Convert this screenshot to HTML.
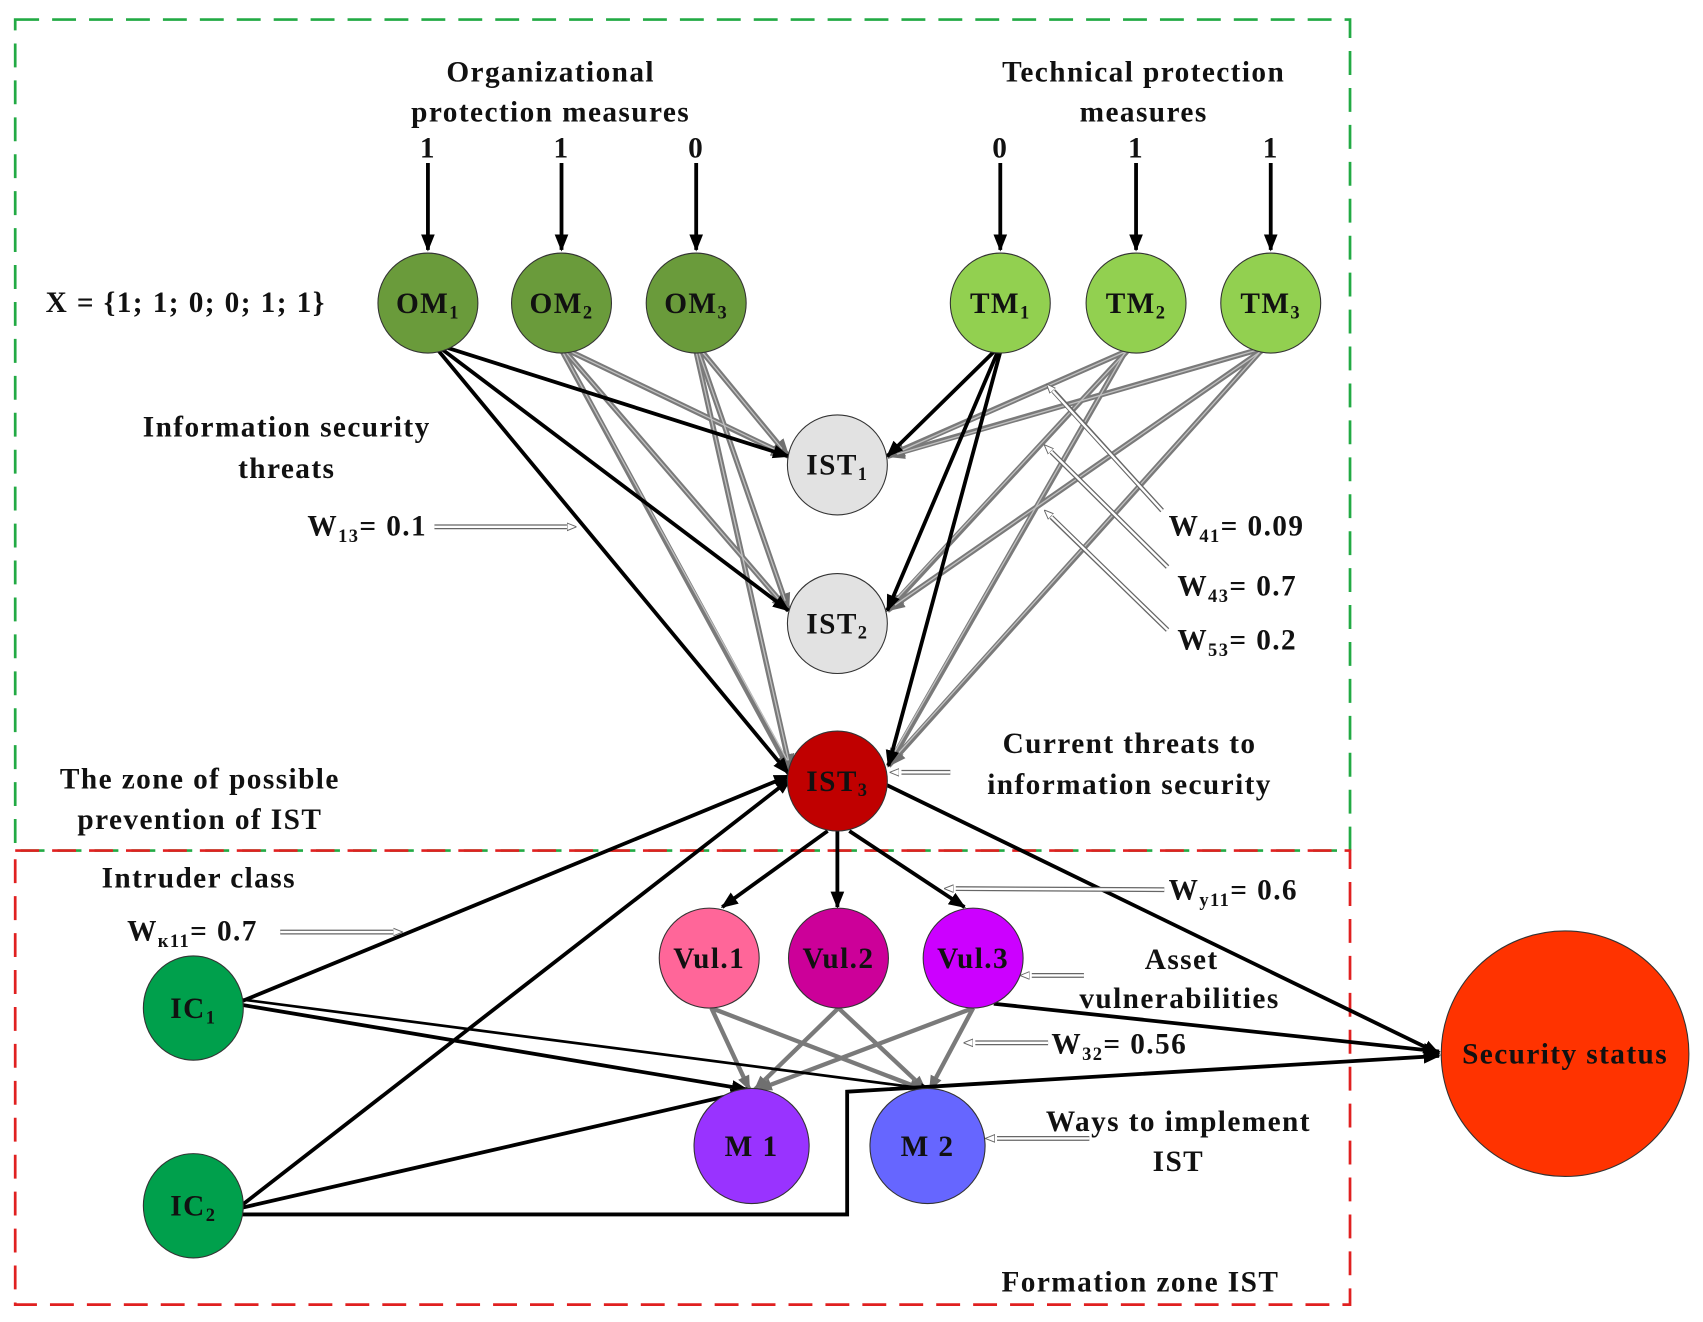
<!DOCTYPE html>
<html><head><meta charset="utf-8"><style>
html,body{margin:0;padding:0;background:#fff}
svg{display:block}
text{font-family:"Liberation Serif",serif;font-weight:bold;fill:#111;letter-spacing:1.3px}
</style></head><body>
<svg width="1703" height="1322" viewBox="0 0 1568 1217" preserveAspectRatio="none" xmlns="http://www.w3.org/2000/svg">
<defs>
<marker id="ab" viewBox="0 0 10 10" refX="9" refY="5" markerWidth="4.5" markerHeight="4.5" orient="auto" markerUnits="strokeWidth"><path d="M0,1 L10,5 L0,9 z" fill="#000"/></marker>
<marker id="ag" viewBox="0 0 10 10" refX="9" refY="5" markerWidth="3.5" markerHeight="3.5" orient="auto" markerUnits="strokeWidth"><path d="M0,1 L10,5 L0,9 z" fill="#707070"/></marker>
<marker id="aw" viewBox="0 0 10 10" refX="9" refY="5" markerWidth="4" markerHeight="4" orient="auto" markerUnits="strokeWidth"><path d="M0,1 L10,5 L0,9 z" fill="#fff" stroke="#666" stroke-width="1"/></marker>
</defs>

<rect x="14" y="18" width="1229" height="765" fill="none" stroke="#22aa44" stroke-width="2.5" stroke-dasharray="22,12"/>
<rect x="14" y="783" width="1229" height="418" fill="none" stroke="#e02020" stroke-width="2.5" stroke-dasharray="22,12"/>

<g stroke="#000" stroke-width="3.5" marker-end="url(#ab)">
<line x1="394" y1="150" x2="394" y2="230"/><line x1="517" y1="150" x2="517" y2="230"/><line x1="641" y1="150" x2="641" y2="230"/>
<line x1="921" y1="150" x2="921" y2="230"/><line x1="1046" y1="150" x2="1046" y2="230"/><line x1="1170" y1="150" x2="1170" y2="230"/>
</g>

<g stroke="#7a7a7a" stroke-width="5" marker-end="url(#ag)" fill="none">
<line x1="522" y1="322" x2="726" y2="420"/><line x1="520" y1="323" x2="726" y2="562"/><line x1="518" y1="324" x2="728" y2="710"/>
<line x1="645" y1="322" x2="726" y2="420"/><line x1="643" y1="323" x2="726" y2="562"/><line x1="641" y1="324" x2="728" y2="710"/>
<line x1="1040" y1="322" x2="817" y2="420"/><line x1="1038" y1="323" x2="817" y2="562"/><line x1="1036" y1="324" x2="818" y2="705"/>
<line x1="1165" y1="320" x2="817" y2="420"/><line x1="1163" y1="322" x2="817" y2="562"/><line x1="1160" y1="324" x2="818" y2="705"/>
</g>
<g stroke="#7a7a7a" stroke-width="4" marker-end="url(#ag)" fill="none">
<line x1="655" y1="928" x2="690" y2="1003"/><line x1="655" y1="928" x2="850" y2="1003"/>
<line x1="772" y1="928" x2="695" y2="1003"/><line x1="772" y1="928" x2="852" y2="1003"/>
<line x1="896" y1="928" x2="698" y2="1003"/><line x1="896" y1="928" x2="856" y2="1003"/>
</g>
<g stroke="#c0c0c0" stroke-width="1.2" fill="none">
<line x1="522" y1="322" x2="718" y2="416"/><line x1="520" y1="323" x2="720" y2="555"/><line x1="518" y1="324" x2="725" y2="700"/>
<line x1="645" y1="322" x2="720" y2="413"/><line x1="643" y1="323" x2="723" y2="553"/><line x1="641" y1="324" x2="726" y2="700"/>
<line x1="1040" y1="322" x2="825" y2="417"/><line x1="1038" y1="323" x2="822" y2="555"/><line x1="1036" y1="324" x2="821" y2="697"/>
<line x1="1165" y1="320" x2="826" y2="418"/><line x1="1163" y1="322" x2="824" y2="557"/><line x1="1160" y1="324" x2="823" y2="698"/>
</g>

<g stroke="#000" stroke-width="3.5" marker-end="url(#ab)" fill="none">
<line x1="405" y1="318" x2="726" y2="420"/><line x1="405" y1="320" x2="726" y2="562"/><line x1="403" y1="322" x2="726" y2="712"/>
<line x1="917" y1="322" x2="817" y2="420"/><line x1="919" y1="323" x2="817" y2="562"/><line x1="921" y1="324" x2="818" y2="705"/>
<line x1="762" y1="765" x2="665" y2="835"/><line x1="771" y1="765" x2="771" y2="835"/><line x1="782" y1="765" x2="888" y2="835"/>
<line x1="815" y1="722" x2="1325" y2="970"/>
<line x1="222" y1="922" x2="727" y2="714"/><line x1="222" y1="925" x2="688" y2="1003"/>
<line x1="222" y1="1110" x2="728" y2="717"/><line x1="222" y1="1112" x2="687" y2="1005"/>
<line x1="915" y1="924" x2="1325" y2="968"/>
<polyline points="222,1118 780,1118 780,1005 1325,972"/>
</g>
<line x1="222" y1="920" x2="858" y2="1003" stroke="#000" stroke-width="2.5" marker-end="url(#ab)"/>

<g stroke="#666" stroke-width="4.5" fill="none">
<line x1="400" y1="485" x2="522" y2="485"/><line x1="1070" y1="470" x2="970" y2="360"/><line x1="1075" y1="522" x2="968" y2="416"/><line x1="1075" y1="580" x2="968" y2="476"/>
<line x1="875" y1="711" x2="830" y2="711"/><line x1="1072" y1="819" x2="880" y2="818"/><line x1="258" y1="858" x2="362" y2="858"/>
<line x1="998" y1="898" x2="950" y2="898"/><line x1="965" y1="960" x2="898" y2="960"/><line x1="1003" y1="1048" x2="918" y2="1048"/>
</g>
<g stroke="#fff" stroke-width="2.2" fill="none" marker-end="url(#aw)">
<line x1="400" y1="485" x2="530" y2="485"/><line x1="1070" y1="470" x2="964" y2="354"/><line x1="1075" y1="522" x2="962" y2="410"/><line x1="1075" y1="580" x2="962" y2="470"/>
<line x1="875" y1="711" x2="820" y2="711"/><line x1="1072" y1="819" x2="870" y2="818"/><line x1="258" y1="858" x2="370" y2="858"/>
<line x1="998" y1="898" x2="940" y2="898"/><line x1="965" y1="960" x2="888" y2="960"/><line x1="1003" y1="1048" x2="908" y2="1048"/>
</g>

<g stroke="#333" stroke-width="1">
<ellipse cx="394" cy="279" rx="46" ry="46" fill="#6a9b3b"/><ellipse cx="517" cy="279" rx="46" ry="46" fill="#6a9b3b"/><ellipse cx="641" cy="279" rx="46" ry="46" fill="#6a9b3b"/>
<ellipse cx="921" cy="279" rx="46" ry="46" fill="#92d050"/><ellipse cx="1046" cy="279" rx="46" ry="46" fill="#92d050"/><ellipse cx="1170" cy="279" rx="46" ry="46" fill="#92d050"/>
<ellipse cx="771" cy="428" rx="46" ry="46" fill="#e2e2e2"/><ellipse cx="771" cy="574" rx="46" ry="46" fill="#e2e2e2"/><ellipse cx="771" cy="719" rx="46" ry="46" fill="#c00000"/>
<ellipse cx="653" cy="882" rx="46" ry="46" fill="#ff6699"/><ellipse cx="772" cy="882" rx="46" ry="46" fill="#cc0099"/><ellipse cx="896" cy="882" rx="46" ry="46" fill="#cc00ff"/>
<ellipse cx="692" cy="1055" rx="53" ry="53" fill="#9933ff"/><ellipse cx="854" cy="1055" rx="53" ry="53" fill="#6666ff"/>
<ellipse cx="178" cy="928" rx="46" ry="48" fill="#00a04c"/><ellipse cx="178" cy="1110" rx="46" ry="48" fill="#00a04c"/>
<ellipse cx="1441" cy="970" rx="114" ry="113" fill="#ff3300"/>
</g>

<g font-size="27" text-anchor="middle">
<text x="394" y="288">OM<tspan font-size="17" dy="5">1</tspan></text>
<text x="517" y="288">OM<tspan font-size="17" dy="5">2</tspan></text>
<text x="641" y="288">OM<tspan font-size="17" dy="5">3</tspan></text>
<text x="921" y="288">TM<tspan font-size="17" dy="5">1</tspan></text>
<text x="1046" y="288">TM<tspan font-size="17" dy="5">2</tspan></text>
<text x="1170" y="288">TM<tspan font-size="17" dy="5">3</tspan></text>
<text x="771" y="437">IST<tspan font-size="17" dy="5">1</tspan></text>
<text x="771" y="583">IST<tspan font-size="17" dy="5">2</tspan></text>
<text x="771" y="728">IST<tspan font-size="17" dy="5">3</tspan></text>
<text x="653" y="891">Vul.1</text><text x="772" y="891">Vul.2</text><text x="896" y="891">Vul.3</text>
<text x="692" y="1064">M 1</text><text x="854" y="1064">M 2</text>
<text x="178" y="937">IC<tspan font-size="17" dy="5">1</tspan></text>
<text x="178" y="1119">IC<tspan font-size="17" dy="5">2</tspan></text>
<text x="1441" y="979">Security status</text>
</g>

<g font-size="27" text-anchor="middle">
<text x="507" y="75">Organizational</text><text x="507" y="112">protection measures</text>
<text x="1053" y="75">Technical protection</text><text x="1053" y="112">measures</text>
<text x="394" y="145">1</text><text x="517" y="145">1</text><text x="641" y="145">0</text>
<text x="921" y="145">0</text><text x="1046" y="145">1</text><text x="1170" y="145">1</text>
<text x="264" y="402">Information security</text><text x="264" y="440">threats</text>
<text x="1040" y="693">Current threats to</text><text x="1040" y="731">information security</text>
<text x="184" y="726">The zone of possible</text><text x="184" y="763">prevention of IST</text>
<text x="183" y="817">Intruder class</text>
<text x="1088" y="892">Asset</text><text x="1086" y="928">vulnerabilities</text>
<text x="1085" y="1041">Ways to implement</text><text x="1085" y="1078">IST</text>
<text x="1050" y="1189">Formation zone IST</text>
</g>
<g font-size="27">
<text x="42" y="287">X = {1; 1; 0; 0; 1; 1}</text>
<text x="283" y="493">W<tspan font-size="17" dy="6">13</tspan><tspan dy="-6">= 0.1</tspan></text>
<text x="1076" y="493">W<tspan font-size="17" dy="6">41</tspan><tspan dy="-6">= 0.09</tspan></text>
<text x="1084" y="548">W<tspan font-size="17" dy="6">43</tspan><tspan dy="-6">= 0.7</tspan></text>
<text x="1084" y="598">W<tspan font-size="17" dy="6">53</tspan><tspan dy="-6">= 0.2</tspan></text>
<text x="1076" y="828">W<tspan font-size="17" dy="6">y11</tspan><tspan dy="-6">= 0.6</tspan></text>
<text x="117" y="866">W<tspan font-size="17" dy="6">к11</tspan><tspan dy="-6">= 0.7</tspan></text>
<text x="968" y="970">W<tspan font-size="17" dy="6">32</tspan><tspan dy="-6">= 0.56</tspan></text>
</g>
</svg>
</body></html>
